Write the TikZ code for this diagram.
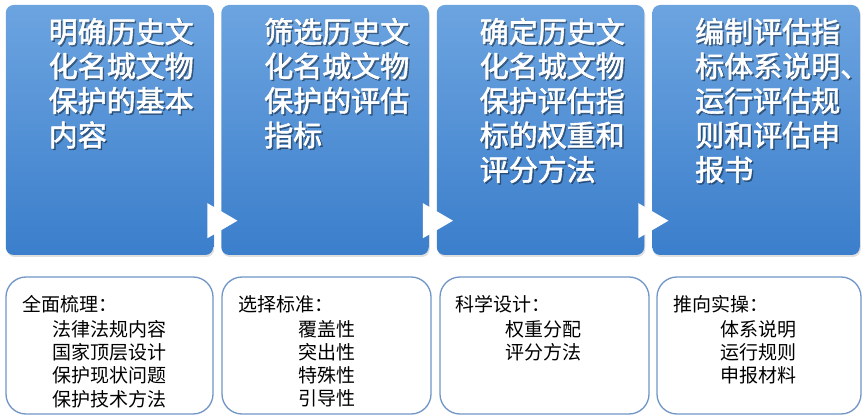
\documentclass[tikz,border=0pt]{standalone}
\usepackage{fontspec}
\newfontfamily\cjk{Noto Sans CJK SC}
\newfontfamily\cjkb[FakeBold=2]{Noto Sans CJK SC}
\usetikzlibrary{calc,shadows}
\definecolor{boxtop}{HTML}{6CA4E0}
\definecolor{boxbot}{HTML}{3B7ECB}
\definecolor{lineblue}{HTML}{7196C6}
\tikzset{
  topbox/.style={rounded corners=8pt, minimum width=207.5pt, minimum height=250pt, inner sep=0pt,
    top color=boxtop, bottom color=boxbot, draw=none,
    drop shadow={shadow xshift=1pt, shadow yshift=-2pt, opacity=0.25}},
  botbox/.style={rounded corners=20pt, minimum height=137pt, inner sep=0pt, draw=lineblue, line width=1.3pt, fill=white},
  toptext/.style={anchor=north west, inner sep=0pt, align=left, text=white, font=\cjkb\fontsize{29}{34.5}\selectfont},
  topshadow/.style={toptext, text=black, opacity=0.35},
  bottitle/.style={anchor=north west, inner sep=0pt, align=left, text=black, font=\cjk\fontsize{19}{23.25}\selectfont},
  botlist/.style={bottitle},
  tri/.style={fill=white, draw=none}
}
\begin{document}
\begin{tikzpicture}[x=1pt,y=-1pt]
\useasboundingbox (0,0) rectangle (865,419);
% top boxes
\node[topbox] (b1) at (109.5,130) {};
\node[topbox] (b2) at (325,130) {};
\node[topbox] (b3) at (540.5,130) {};
\node[topbox] (b4) at (756,130) {};
% top texts
\foreach \b/\t in {b1/{明确历史文\\化名城文物\\保护的基本\\内容},
                   b2/{筛选历史文\\化名城文物\\保护的评估\\指标},
                   b3/{确定历史文\\化名城文物\\保护评估指\\标的权重和\\评分方法},
                   b4/{编制评估指\\标体系说明\rlap{、}\\运行评估规\\则和评估申\\报书}}{
  \node[topshadow] (\b s) at ($(\b.north west)+(44.5,14.5)$) {\t};
  \node[toptext] (\b t) at ($(\b.north west)+(43,13)$) {\t};
}
% arrow triangles
\foreach \b in {b1,b2,b3}{
  \fill[tri] ($(\b.south east)+(-6,-52)$) -- ($(\b.south east)+(24,-34.5)$) -- ($(\b.south east)+(-6,-17)$) -- cycle;
}
% bottom boxes
\node[botbox, minimum width=207pt] (c1) at (109.5,345.5) {};
\node[botbox, minimum width=209pt] (c2) at (326.5,345.5) {};
\node[botbox, minimum width=209pt] (c3) at (544.5,345.5) {};
\node[botbox, minimum width=204pt] (c4) at (759,345.5) {};
% bottom texts
\node[bottitle] (c1t) at (22,295) {全面梳理：};
\node[botlist] (c1l) at (52,320) {法律法规内容\\国家顶层设计\\保护现状问题\\保护技术方法};
\node[bottitle] (c2t) at (238,295) {选择标准：};
\node[botlist] (c2l) at (298,320) {覆盖性\\突出性\\特殊性\\引导性};
\node[bottitle] (c3t) at (455,295) {科学设计：};
\node[botlist] (c3l) at (505,320) {权重分配\\评分方法};
\node[bottitle] (c4t) at (673,295) {推向实操：};
\node[botlist] (c4l) at (720,320) {体系说明\\运行规则\\申报材料};
\end{tikzpicture}
\end{document}
